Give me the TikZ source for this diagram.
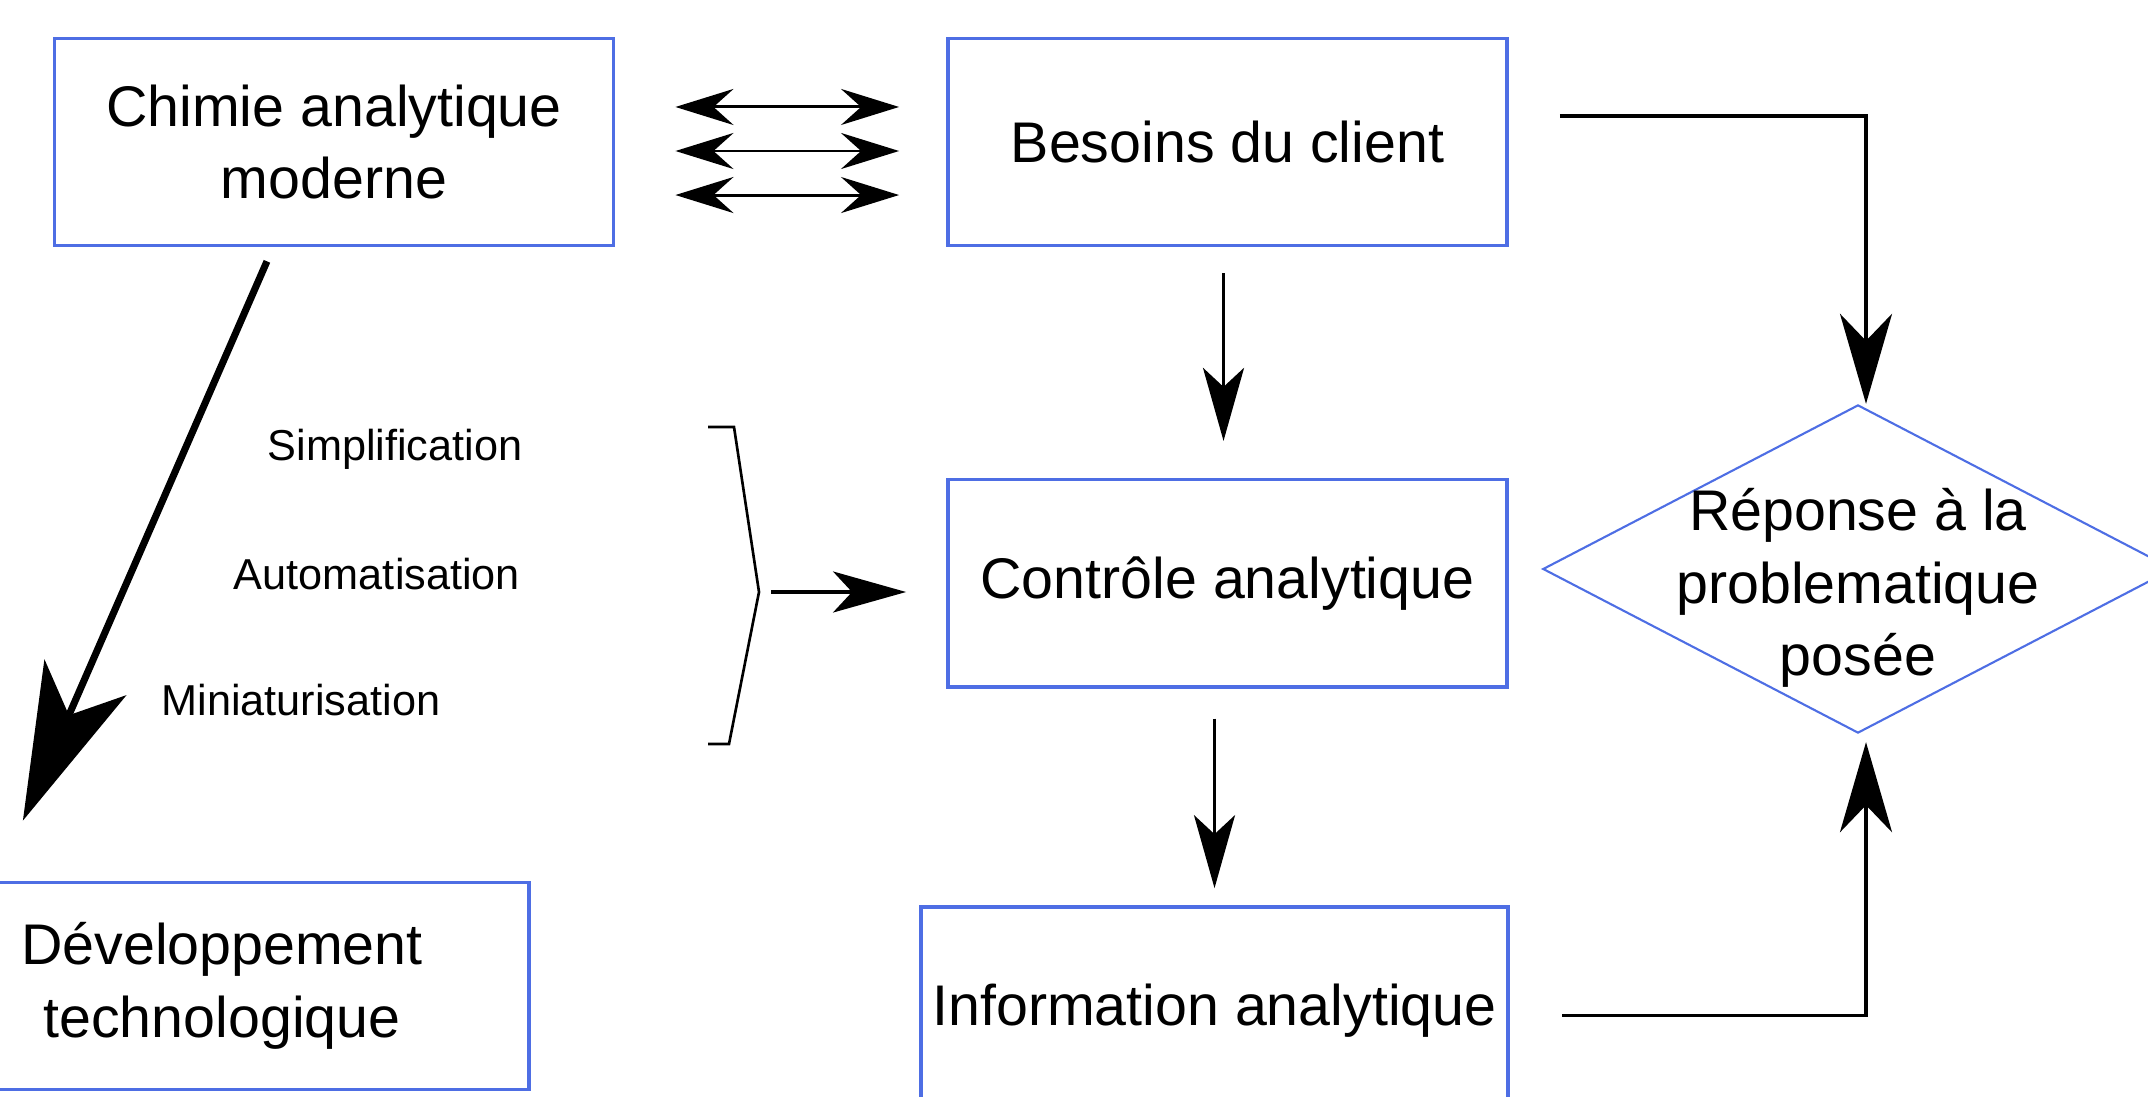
\documentclass[tikz,border=0pt]{standalone}
\usepackage{fontspec}
\setmainfont{Liberation Sans}
\usetikzlibrary{arrows.meta,shapes.geometric}
\definecolor{boxblue}{RGB}{78,110,228}

\begin{document}
\begin{tikzpicture}[x=0.01cm, y=-0.01cm, node distance=4.41cm,
		box/.style={draw=boxblue, line width=1pt, minimum width=5.59cm, minimum height=2.07cm, align=center, font=\fontsize{16.3}{20.7}\selectfont},
		rep/.style={draw=boxblue, line width=0.6pt, diamond, minimum width=6.3cm, minimum height=3.28cm, inner sep=0pt},
		reptext/.style={align=center, font=\fontsize{16.3}{20.7}\selectfont},
		small/.style={font=\fontsize{12.3}{14}\selectfont},
		thinarr/.style={-{Stealth[length=0.73cm, width=0.41cm, inset=0.19cm]}, line width=0.95pt},
		elbowarr/.style={-{Stealth[length=0.9cm, width=0.52cm, inset=0.27cm]}, line width=1.1pt},
		twoway/.style={{Stealth[length=0.58cm, width=0.36cm, inset=0.2cm]}-{Stealth[length=0.58cm, width=0.36cm, inset=0.2cm]}, line width=0.85pt},
		bigarr/.style={-{Stealth[length=1.56cm, width=0.89cm, inset=0.41cm]}, line width=2pt}]
	\useasboundingbox (0,0) rectangle (2148,1097);

	\node[box] (chimie) at (334,142) {Chimie analytique\\moderne};
	\node[box] (besoins) [right of=chimie, node distance=8.93cm] {Besoins du client};
	\node[box] (controle) [below of=besoins] {Contrôle analytique};
	\node[box, minimum width=5.84cm] (info) [below of=controle, node distance=4.27cm, xshift=-0.13cm] {Information analytique};
	\node[box, minimum width=6.14cm] (dev) at (222,986) {Développement\\technologique};
	\node[rep] (rep) at (1858,569) {};
	\node[reptext] (reptxt) at ([yshift=-0.19cm]rep.center) {Réponse à la\\problematique\\posée};

	\node[small] (simpl) at (395,449) {Simplification};
	\node[small] (auto) at (377,574) {Automatisation};
	\node[small] (mini) at (301,700) {Miniaturisation};

	% accolade
	\coordinate (bracetip) at (759,592);
	\draw[line width=0.75pt] (708,427) -- (734,427) -- (bracetip) -- (729,744) -- (708,744);

	\foreach \dy in {0.35,-0.09,-0.53}
		\draw[twoway, shorten <=0.6cm, shorten >=0.47cm] ([yshift=\dy cm]chimie.east) -- ([yshift=\dy cm]chimie.east -| besoins.west);

	\draw[thinarr, shorten <=0.26cm, shorten >=0.37cm] ([xshift=-0.04cm]besoins.south) -- ([xshift=-0.04cm]controle.north);
	\draw[thinarr, shorten <=0.3cm, shorten >=0.17cm] (controle.south -| info.north) -- (info.north);
	\draw[thinarr, shorten <=0.12cm, shorten >=0.4cm] (bracetip) -- (bracetip -| controle.west);

	\draw[elbowarr] ([xshift=0.51cm, yshift=0.26cm]besoins.east) -| ([xshift=0.08cm]rep.north);
	\draw[elbowarr, shorten >=0.08cm] ([xshift=0.52cm, yshift=-0.05cm]info.east) -| ([xshift=0.08cm]rep.south);

	\draw[bigarr] ([xshift=-0.67cm, yshift=-0.14cm]chimie.south) -- ([xshift=-1.99cm, yshift=0.6cm]dev.north);
\end{tikzpicture}
\end{document}
